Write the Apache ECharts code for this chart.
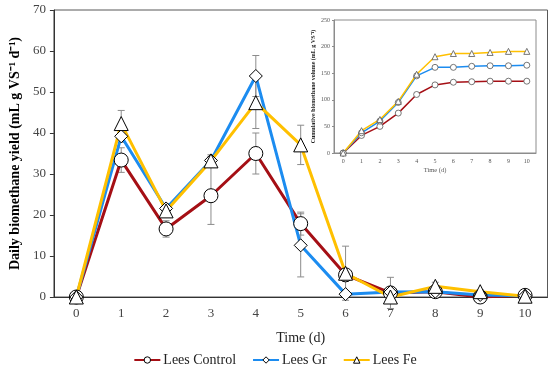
<!DOCTYPE html>
<html><head><meta charset="utf-8">
<script src="https://cdn.jsdelivr.net/npm/echarts@6/dist/echarts.min.js"></script>
<style>html,body{margin:0;padding:0;background:#fff}#c{width:550px;height:382px}</style>
</head><body><div id="c"></div>
<script>
var days = ['0','1','2','3','4','5','6','7','8','9','10'];
var seriesNames = ['Lees Control','Lees Gr','Lees Fe'];
var dailyControl = [0,33.4,16.6,24.7,35.0,17.9,5.4,1.0,1.3,0.0,0.4];
var dailyGr      = [0,39.2,21.6,33.3,53.9,12.6,0.7,1.2,1.3,0.5,0.3];
var dailyFe      = [0,42.3,21.0,33.2,47.4,37.1,5.8,0.0,2.6,1.3,0.2];
var errControl = [0,3.0,2.0,7.0,5.0,2.8,1.5,3.8,0.5,0.3,0.5];
var errGr      = [0,1.5,1.2,1.0,5.0,7.7,0.5,0.5,0.5,0.3,0.3];
var errFe      = [0,3.2,1.0,1.5,6.3,4.8,6.6,0.5,1.0,0.5,0.3];
var cumControl = [0,33,50,75,110,128,133,134,135,135,135];
var cumGr      = [0,38,60,95,145,161,161,163,164,164,165];
var cumFe      = [0,42,63,97,148,181,187,187,189,191,191];
var colors = ['#A50F15','#1C8CF0','#FFC000'];

function errData(v,e){return days.map(function(d,i){return [i,v[i]-e[i],v[i]+e[i]];});}

var font = 'Liberation Serif';
function errSeries(v,e){
  return {type:'custom', xAxisIndex:0, yAxisIndex:0, z:1, silent:true,
    data: errData(v,e),
    renderItem:function(params,api){
      var lo=api.coord([api.value(0),api.value(1)]);
      var hi=api.coord([api.value(0),api.value(2)]);
      var w=3.5, st={stroke:'#8c8c8c',lineWidth:1};
      return {type:'group',children:[
        {type:'line',shape:{x1:lo[0],y1:lo[1],x2:hi[0],y2:hi[1]},style:st},
        {type:'line',shape:{x1:lo[0]-w,y1:lo[1],x2:lo[0]+w,y2:lo[1]},style:st},
        {type:'line',shape:{x1:hi[0]-w,y1:hi[1],x2:hi[0]+w,y2:hi[1]},style:st}
      ]};
    }};
}
function mainLine(name,v,i,sym,size){
  return {name:name,type:'line',xAxisIndex:0,yAxisIndex:0,data:v,symbol:sym,symbolSize:size,
    z:3, lineStyle:{color:colors[i],width:3}, itemStyle:{color:'#fff',borderColor:'#000',borderWidth:1}};
}
function insetLine(v,i,sym,size){
  return {type:'line',xAxisIndex:1,yAxisIndex:1,data:v,symbol:sym,symbolSize:size,z:6,
    lineStyle:{color:colors[i],width:1.5}, itemStyle:{color:'#fff',borderColor:'#555',borderWidth:0.8}};
}
var chart = echarts.init(document.getElementById('c'),null,{renderer:'canvas'});
chart.setOption({
  animation:false,
  textStyle:{fontFamily:font},
  grid:[
    {left:50,top:10,right:2.5,bottom:85,show:true,borderColor:'#595959',borderWidth:1,backgroundColor:'#fff'},
    {left:334,top:20,right:14,bottom:229,show:true,borderColor:'#8c8c8c',borderWidth:1,backgroundColor:'#fff',z:5}
  ],
  xAxis:[
    {type:'category',gridIndex:0,data:days,boundaryGap:true,
     axisLine:{lineStyle:{color:'#333'}},axisTick:{show:false},splitLine:{show:false},
     axisLabel:{color:'#444',fontSize:13,fontFamily:font,margin:10},
     name:'Time (d)',nameLocation:'middle',nameGap:34,nameTextStyle:{color:'#222',fontSize:14,fontFamily:font}},
    {type:'category',gridIndex:1,data:days,boundaryGap:true,z:6,
     axisLine:{lineStyle:{color:'#8c8c8c'}},axisTick:{show:false},splitLine:{show:false},
     axisLabel:{color:'#555',fontSize:6,fontFamily:font,margin:5},
     name:'Time (d)',nameLocation:'middle',nameGap:14,nameTextStyle:{color:'#555',fontSize:6.5,fontFamily:font}}
  ],
  yAxis:[
    {type:'value',gridIndex:0,min:0,max:70,interval:10,
     axisLine:{show:true,onZero:false,lineStyle:{color:'#333'}},axisTick:{show:true,length:4,lineStyle:{color:'#333'}},splitLine:{show:false},
     axisLabel:{color:'#444',fontSize:13,fontFamily:font,margin:8},
     name:'Daily biomethane yield (mL g VS\u207B\u00B9 d\u207B\u00B9)',nameLocation:'middle',nameGap:30,
     nameTextStyle:{color:'#000',fontSize:14,fontWeight:'bold',fontFamily:font}},
    {type:'value',gridIndex:1,min:0,max:250,interval:50,z:6,
     axisLine:{show:true,onZero:false,lineStyle:{color:'#8c8c8c'}},axisTick:{show:true,length:2,lineStyle:{color:'#8c8c8c'}},splitLine:{show:false},
     axisLabel:{color:'#555',fontSize:6,fontFamily:font,margin:4},
     name:'Cumulative biomethane volume (mL g VS\u207B\u00B9)',nameLocation:'middle',nameGap:18,
     nameTextStyle:{color:'#222',fontSize:6,fontWeight:'bold',fontFamily:font}}
  ],
  legend:{bottom:10,left:'center',itemWidth:26,itemHeight:8,itemGap:16,
    itemStyle:{color:'#fff',borderColor:'#000',borderWidth:1},
    textStyle:{fontSize:14,fontFamily:font,color:'#222',padding:[0,0,0,-2]},data:seriesNames},
  series:[
    errSeries(dailyControl,errControl),
    errSeries(dailyGr,errGr),
    errSeries(dailyFe,errFe),
    mainLine(seriesNames[0],dailyControl,0,'circle',14),
    mainLine(seriesNames[1],dailyGr,1,'diamond',13),
    mainLine(seriesNames[2],dailyFe,2,'triangle',14),
    insetLine(cumControl,0,'circle',6),
    insetLine(cumGr,1,'circle',6),
    insetLine(cumFe,2,'triangle',6)
  ]
});
</script></body></html>
